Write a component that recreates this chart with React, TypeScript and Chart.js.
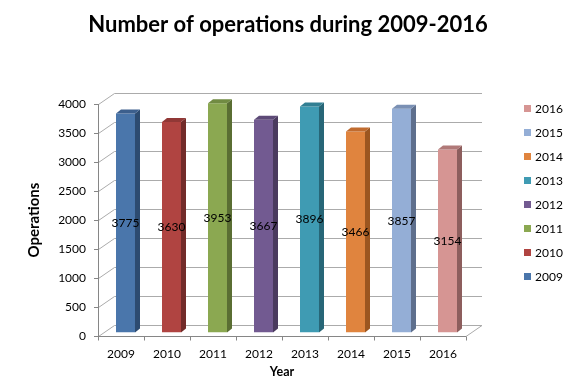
import React, { useEffect, useRef } from 'react';
import { Chart, registerables } from 'chart.js';

Chart.register(...registerables);

const years = ['2009', '2010', '2011', '2012', '2013', '2014', '2015', '2016'];
const operations = [3775, 3630, 3953, 3667, 3896, 3466, 3857, 3154];
const frontColors = ['#4A76AB', '#B04441', '#8BA851', '#725A91', '#3F9BB3', '#E0843E', '#94AED6', '#D69593'];
const sideColors = ['#2D4B70', '#722B29', '#5A6E33', '#4A3A5E', '#276677', '#9C5620', '#5E6F8D', '#8D5E5D'];
const topColors = ['#3C5F8D', '#913836', '#718B42', '#5D4A77', '#327F93', '#C06B2F', '#7A90B4', '#B07978'];

const FONT = 'Lato, "Open Sans", sans-serif';
const DX = 16;
const DY = -11;
const BX = 4.5;
const BY = -3.5;
const SX = 5;
const SY = -4;

const threeD = {
  id: 'threeD',
  beforeDatasetsDraw(chart: any) {
    const { ctx, chartArea } = chart;
    const { left, right, top, bottom } = chartArea;
    const xs = chart.scales.x;
    const ys = chart.scales.y;
    const line = (x1: number, y1: number, x2: number, y2: number) => {
      ctx.beginPath();
      ctx.moveTo(x1, y1);
      ctx.lineTo(x2, y2);
      ctx.stroke();
    };
    ctx.save();
    ctx.lineWidth = 1;
    ctx.strokeStyle = '#ABABAB';
    ys.ticks.forEach((t: any) => {
      const py = Math.round(ys.getPixelForValue(t.value)) + 0.5;
      line(left + 0.5, py, left + DX + 0.5, py + DY);
      line(left + DX + 0.5, py + DY, right + DX, py + DY);
    });
    const by = Math.round(bottom) + 0.5;
    line(right, by, right + DX, by + DY);
    ctx.strokeStyle = '#868686';
    line(left, by, right, by);
    line(Math.round(left) + 0.5, top, Math.round(left) + 0.5, by);
    ys.ticks.forEach((t: any) => {
      const py = Math.round(ys.getPixelForValue(t.value)) + 0.5;
      line(left - 4, py, left, py);
    });
    for (let i = 0; i <= years.length; i++) {
      const px = Math.round(xs.getPixelForValue(i - 0.5)) + 0.5;
      line(px, by, px, by + 4);
    }
    ctx.restore();
    ctx.save();
    ctx.translate(BX, BY);
  },
  afterDatasetsDraw(chart: any) {
    const { ctx } = chart;
    const meta = chart.getDatasetMeta(0);
    const bars = meta.data.map((bar: any) => bar.getProps(['x', 'y', 'base', 'width'], true));
    bars.forEach((b: any, i: number) => {
      const l = b.x - b.width / 2;
      const r = b.x + b.width / 2;
      ctx.fillStyle = sideColors[i];
      ctx.beginPath();
      ctx.moveTo(r, b.y);
      ctx.lineTo(r + SX, b.y + SY);
      ctx.lineTo(r + SX, b.base + SY);
      ctx.lineTo(r, b.base);
      ctx.closePath();
      ctx.fill();
      ctx.fillStyle = topColors[i];
      ctx.beginPath();
      ctx.moveTo(l, b.y);
      ctx.lineTo(l + SX, b.y + SY);
      ctx.lineTo(r + SX, b.y + SY);
      ctx.lineTo(r, b.y);
      ctx.closePath();
      ctx.fill();
    });
    ctx.restore();
    ctx.save();
    ctx.fillStyle = '#000';
    ctx.font = `12px ${FONT}`;
    ctx.textAlign = 'center';
    ctx.textBaseline = 'middle';
    bars.forEach((b: any, i: number) => {
      ctx.fillText(String(operations[i]), b.x + BX, (b.y + b.base) / 2 + BY);
    });
    ctx.restore();
  },
  afterDraw(chart: any) {
    const { ctx } = chart;
    ctx.save();
    ctx.font = `12px ${FONT}`;
    ctx.textAlign = 'left';
    ctx.textBaseline = 'middle';
    const n = years.length;
    for (let k = 0; k < n; k++) {
      const i = n - 1 - k;
      const cy = 108.5 + k * 24;
      ctx.fillStyle = frontColors[i];
      ctx.fillRect(524, cy - 3.5, 7, 7);
      ctx.fillStyle = '#000';
      ctx.fillText(years[i], 535, cy + 0.5);
    }
    ctx.restore();
  },
};

export default function App() {
  const ref = useRef<HTMLCanvasElement | null>(null);
  useEffect(() => {
    document.body.style.margin = '0';
    if (!ref.current) return;
    Chart.defaults.color = '#000';
    const chart = new Chart(ref.current, {
      type: 'bar',
      data: {
        labels: years,
        datasets: [
          {
            data: operations,
            backgroundColor: frontColors,
            borderWidth: 0,
            barPercentage: 0.413,
            categoryPercentage: 1,
          },
        ],
      },
      options: {
        responsive: false,
        animation: false,
        events: [],
        layout: { padding: 0 },
        plugins: {
          legend: { display: false },
          tooltip: { enabled: false },
          title: {
            display: true,
            text: 'Number of operations during 2009-2016',
            color: '#000',
            font: { family: FONT, size: 22, weight: 'bold' },
            padding: { top: 11.8, bottom: 65.8 },
          },
        },
        scales: {
          x: {
            grid: { display: false, drawTicks: false },
            border: { display: false },
            ticks: { font: { family: FONT, size: 12 }, padding: 11, color: '#000' },
            title: {
              display: true,
              text: 'Year',
              color: '#000',
              font: { family: FONT, size: 12.5, weight: 'bold' },
              padding: { top: 0, bottom: 4.5 },
            },
            afterFit: (s: any) => {
              s.height = 48;
            },
          },
          y: {
            min: 0,
            max: 4000,
            grid: { display: false, drawTicks: false },
            border: { display: false },
            ticks: {
              stepSize: 500,
              font: { family: FONT, size: 12 },
              padding: 12,
              color: '#000',
              callback: (v: any) => String(v),
            },
            title: {
              display: true,
              text: 'Operations',
              color: '#000',
              font: { family: FONT, size: 15, weight: 'bold' },
              padding: { top: 25, bottom: 0 },
            },
            afterFit: (s: any) => {
              s.width = 98;
            },
          },
          legendSpace: {
            type: 'linear',
            position: 'right',
            display: true,
            grid: { display: false, drawTicks: false },
            border: { display: false },
            ticks: { display: false },
            afterFit: (s: any) => {
              s.width = 110;
            },
          },
        },
      },
      plugins: [threeD],
    });
    return () => chart.destroy();
  }, []);
  return (
    <div style={{ width: 576, height: 384 }}>
      <canvas ref={ref} width={576} height={384} />
    </div>
  );
}
